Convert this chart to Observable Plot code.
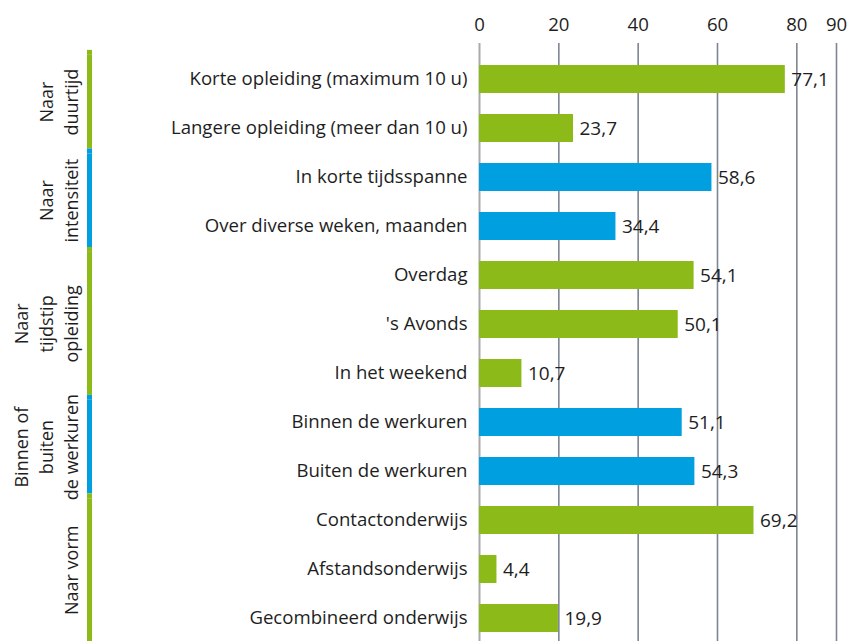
<!DOCTYPE html>
<html>
<head>
<meta charset="utf-8">
<script src="https://cdn.jsdelivr.net/npm/d3@7"></script>
<script src="https://cdn.jsdelivr.net/npm/@observablehq/plot@0.6"></script>
<style>
  html, body { margin: 0; padding: 0; background: #fff; }
  #wrap { display: flex; width: 850px; height: 641px; overflow: hidden; }
  svg { font-family: "Open Sans", sans-serif; }
</style>
</head>
<body>
<div id="wrap"></div>
<script>
const categories = [
  "Korte opleiding (maximum 10 u)",
  "Langere opleiding (meer dan 10 u)",
  "In korte tijdsspanne",
  "Over diverse weken, maanden",
  "Overdag",
  "'s Avonds",
  "In het weekend",
  "Binnen de werkuren",
  "Buiten de werkuren",
  "Contactonderwijs",
  "Afstandsonderwijs",
  "Gecombineerd onderwijs"
];
const values = [77.1, 23.7, 58.6, 34.4, 54.1, 50.1, 10.7, 51.1, 54.3, 69.2, 4.4, 19.9];
const groupOf = [0, 0, 1, 1, 2, 2, 2, 3, 3, 4, 4, 4];
const groupLabels = ["Naar\nduurtijd", "Naar\nintensiteit", "Naar\ntijdstip\nopleiding", "Binnen of\nbuiten\nde werkuren", "Naar vorm"];
const groupColors = ["#8cbb19", "#009fe0", "#8cbb19", "#009fe0", "#8cbb19"];
const xTicks = [0, 20, 40, 60, 80, 90];

const rows = categories.map((c, i) => ({label: c, value: values[i], group: groupOf[i], color: groupColors[groupOf[i]]}));
const groups = groupLabels.map((g, k) => {
  const idx = groupOf.map((v, i) => v === k ? i : -1).filter(i => i >= 0);
  return {label: g, color: groupColors[k], start: d3.min(idx), end: d3.max(idx)};
});
const fmt = v => d3.format(".1f")(v).replace(".", ",");

const H = 641;
const yRange = [55, 641];
const pIn = 0.43, pOut = 0.161;
const step = (yRange[1] - yRange[0]) / (categories.length - pIn + 2 * pOut);
const firstCenter = yRange[0] + step * (pOut + (1 - pIn) / 2);

const left = Plot.plot({
  width: 100,
  height: H,
  marginLeft: 87,
  marginRight: 8,
  marginTop: 0,
  marginBottom: 0,
  style: {background: "transparent", fontSize: "18px", color: "#1e1e1e"},
  x: {axis: null},
  y: {axis: null, type: "linear", domain: [0, categories.length - 1], range: [firstCenter, firstCenter + step * (categories.length - 1)]},
  marks: [
    Plot.rect(groups, {y1: d => d.start - 0.45, y2: d => d.end + 0.45 + (d.end === categories.length - 1 ? 0.2 : 0), fill: "color"}),
    Plot.rect(groups, {y1: d => d.start - 0.55, y2: d => d.start - 0.45, fill: "color"}),
    Plot.text(groups, {
      y: d => (d.start + d.end) / 2,
      text: "label",
      frameAnchor: "left",
      dx: -10,
      rotate: -90,
      lineAnchor: "bottom",
      textAnchor: "middle",
      lineHeight: 1.38,
      fill: "#1e1e1e",
      fontSize: 18
    })
  ]
});

const main = Plot.plot({
  width: 750,
  height: H,
  marginLeft: 379,
  marginRight: 14,
  marginTop: 43,
  marginBottom: 0,
  style: {background: "transparent", fontSize: "18.6px", color: "#1e1e1e"},
  x: {domain: [0, 90], axis: "top", ticks: xTicks, tickSize: 0, tickPadding: 13, label: null},
  y: {domain: categories, range: yRange, paddingInner: pIn, paddingOuter: pOut, tickSize: 0, tickPadding: 12, label: null},
  marks: [
    Plot.gridX(xTicks.filter(t => t > 0), {stroke: "#7d8593", strokeOpacity: 1, strokeWidth: 1.6}),
    Plot.ruleX([0], {stroke: "#aaaaaa", strokeWidth: 2}),
    Plot.barX(rows, {y: "label", x: "value", fill: "color"}),
    Plot.text(rows, {y: "label", x: "value", text: d => fmt(d.value), textAnchor: "start", dx: 6, fill: "#1e1e1e", fontSize: 19})
  ]
});

document.getElementById("wrap").append(left, main);
</script>
</body>
</html>
